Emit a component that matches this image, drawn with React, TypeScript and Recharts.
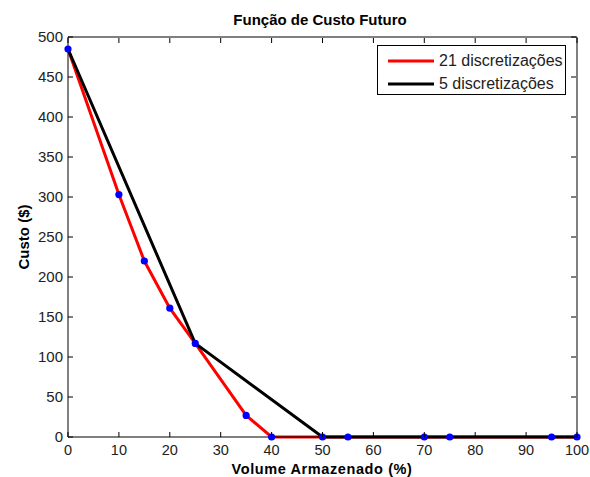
import React from "react";
import { ComposedChart, Line, Scatter, XAxis, YAxis, Legend } from "recharts";

// 21 discretizações (passo de 5%)
const volume21 = [0, 5, 10, 15, 20, 25, 30, 35, 40, 45, 50, 55, 60, 65, 70, 75, 80, 85, 90, 95, 100];
const custo21 = [485, 394, 303, 220, 161, 117, 72, 27, 0, 0, 0, 0, 0, 0, 0, 0, 0, 0, 0, 0, 0];

// 5 discretizações (passo de 25%)
const volume5 = [0, 25, 50, 75, 100];
const custo5 = [485, 117, 0, 0, 0];

// pontos marcados em azul
const volumePts = [0, 10, 15, 20, 25, 35, 40, 50, 55, 70, 75, 95, 100];
const custoPts = [485, 303, 220, 161, 117, 27, 0, 0, 0, 0, 0, 0, 0];

const xTicks = [0, 10, 20, 30, 40, 50, 60, 70, 80, 90, 100];
const yTicks = [0, 50, 100, 150, 200, 250, 300, 350, 400, 450, 500];

const series21 = volume21.map((x, i) => ({ x, y: custo21[i] }));
const series5 = volume5.map((x, i) => ({ x, y: custo5[i] }));
const seriesPts = volumePts.map((x, i) => ({ x, y: custoPts[i] }));

const FONT = "'Liberation Sans', Arial, Helvetica, sans-serif";
const TICK_LEN = 5;
const X_MARGIN = 8;
const Y_MARGIN = 5;

const BottomTick = (props: any) => {
  const { x, y, payload } = props;
  const axisY = y - X_MARGIN;
  return (
    <g>
      <line x1={x} x2={x} y1={axisY} y2={axisY - TICK_LEN} stroke="#000" />
      <text x={x} y={y} dy="0.72em" textAnchor="middle" fontSize={14.5} fontFamily={FONT} fill="#222">
        {payload.value}
      </text>
    </g>
  );
};

const LeftTick = (props: any) => {
  const { x, y, payload } = props;
  const axisX = x + Y_MARGIN;
  return (
    <g>
      <line x1={axisX} x2={axisX + TICK_LEN} y1={y} y2={y} stroke="#000" />
      <text x={x} y={y} dy="0.36em" textAnchor="end" fontSize={15} fontFamily={FONT} fill="#222">
        {payload.value}
      </text>
    </g>
  );
};

const TopTick = (props: any) => {
  const { x, y } = props;
  return <line x1={x} x2={x} y1={y + 1} y2={y + 1 + TICK_LEN} stroke="#000" />;
};

const RightTick = (props: any) => {
  const { x, y } = props;
  return <line x1={x - 1} x2={x - 1 - TICK_LEN} y1={y} y2={y} stroke="#000" />;
};

const legendItems = [
  { label: "21 discretizações", color: "#ff0000" },
  { label: "5 discretizações", color: "#000000" },
];

const LegendBox = () => (
  <div
    style={{
      width: 187,
      height: 48,
      border: "1px solid #000",
      background: "#fff",
      fontFamily: FONT,
      fontSize: 16,
      color: "#222",
      boxSizing: "content-box",
    }}
  >
    {legendItems.map((it, i) => (
      <div key={i} style={{ display: "flex", alignItems: "center", height: 23, marginTop: i === 0 ? 3 : 0 }}>
        <svg width={61} height={10} style={{ display: "block" }}>
          <line x1={10} x2={56} y1={5} y2={5} stroke={it.color} strokeWidth={3} />
        </svg>
        <span style={{ whiteSpace: "nowrap" }}>{it.label}</span>
      </div>
    ))}
  </div>
);

export default function App() {
  return (
    <div style={{ position: "absolute", top: 0, left: 0, width: 590, height: 477, background: "#fff" }}>
      <ComposedChart
        width={590}
        height={477}
        margin={{ top: 36, right: 12, bottom: 0, left: 0 }}
        style={{ background: "#fff" }}
      >
        <XAxis
          xAxisId="bottom"
          dataKey="x"
          type="number"
          domain={[0, 100]}
          ticks={xTicks}
          height={40}
          tickSize={0}
          tickMargin={X_MARGIN}
          tickLine={false}
          tick={<BottomTick />}
          axisLine={{ stroke: "#000" }}
          interval={0}
        />
        <XAxis
          xAxisId="top"
          orientation="top"
          dataKey="x"
          type="number"
          domain={[0, 100]}
          ticks={xTicks}
          height={1}
          tickSize={0}
          tickMargin={0}
          tickLine={false}
          tick={<TopTick />}
          axisLine={{ stroke: "#000" }}
          interval={0}
        />
        <YAxis
          yAxisId="left"
          type="number"
          domain={[0, 500]}
          ticks={yTicks}
          width={68}
          tickSize={0}
          tickMargin={Y_MARGIN}
          tickLine={false}
          tick={<LeftTick />}
          axisLine={{ stroke: "#000" }}
          interval={0}
        />
        <YAxis
          yAxisId="right"
          orientation="right"
          type="number"
          domain={[0, 500]}
          ticks={yTicks}
          width={1}
          tickSize={0}
          tickMargin={0}
          tickLine={false}
          tick={<RightTick />}
          axisLine={{ stroke: "#000" }}
          interval={0}
        />
        <Legend
          content={<LegendBox />}
          layout="horizontal"
          verticalAlign="middle"
          align="center"
          wrapperStyle={{ position: "absolute", top: 45, left: 377, right: "auto", bottom: "auto", width: 189, height: 50 }}
        />
        <Line
          xAxisId="bottom"
          yAxisId="left"
          data={series21}
          dataKey="y"
          type="linear"
          stroke="#ff0000"
          strokeWidth={3}
          dot={false}
          activeDot={false}
          isAnimationActive={false}
          name="21 discretizações"
        />
        <Line
          xAxisId="top"
          yAxisId="right"
          data={series5}
          dataKey="y"
          type="linear"
          stroke="#000000"
          strokeWidth={3}
          dot={false}
          activeDot={false}
          isAnimationActive={false}
          name="5 discretizações"
        />
        <Scatter
          xAxisId="bottom"
          yAxisId="left"
          data={seriesPts}
          dataKey="y"
          fill="#0000ff"
          shape={(p: any) => <circle cx={p.cx} cy={p.cy} r={3.6} fill="#0000ff" />}
          isAnimationActive={false}
          legendType="none"
        />
        <text x={320} y={25} textAnchor="middle" fontSize={15} fontWeight="bold" fontFamily={FONT} fill="#000">
          Função de Custo Futuro
        </text>
        <text x={322} y={474} textAnchor="middle" fontSize={14.5} fontWeight="bold" fontFamily={FONT} fill="#000" letterSpacing={0.6}>
          Volume Armazenado (%)
        </text>
        <text
          x={29}
          y={237}
          textAnchor="middle"
          fontSize={15}
          fontWeight="bold"
          fontFamily={FONT}
          fill="#000"
          transform="rotate(-90 29 237)"
        >
          Custo ($)
        </text>
      </ComposedChart>
    </div>
  );
}
